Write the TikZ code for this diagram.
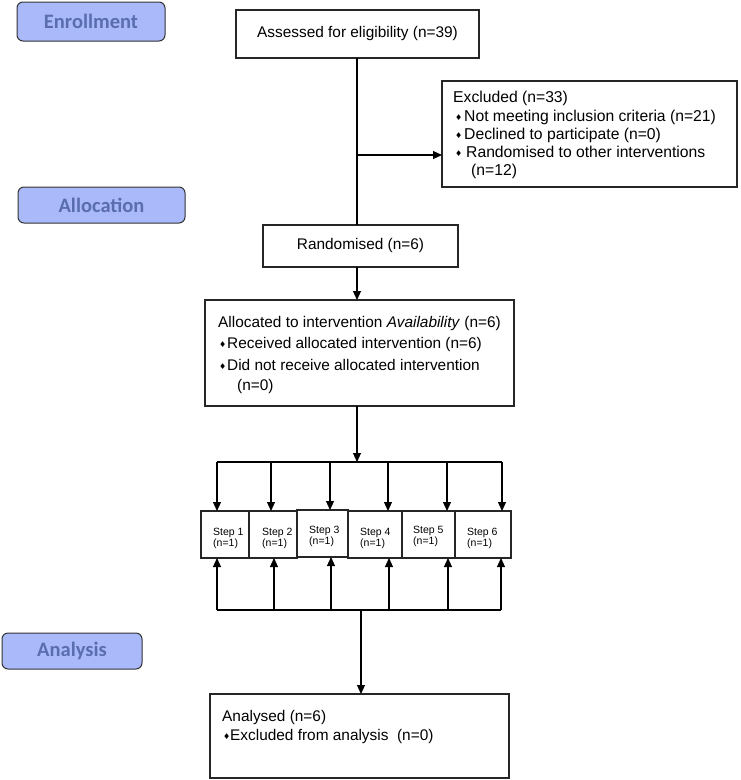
\documentclass[tikz,border=0pt]{standalone}
\usepackage{fontspec}
\setmainfont{Liberation Sans}
\newfontfamily\carlito{Carlito}
\newfontfamily\dejavu{DejaVu Sans}
\usetikzlibrary{arrows.meta}
\definecolor{labfill}{HTML}{A9B9FA}
\definecolor{labtext}{HTML}{5A6DAE}
\newcommand\bul{{\dejavu\fontsize{8}{8}\selectfont\raisebox{0.15ex}{♦}}}
\begin{document}
\begin{tikzpicture}[x=1pt,y=-1pt,
 box/.style={draw=black!85, line width=1.1pt, inner sep=0pt, outer sep=0pt, fill=white},
 lab/.style={draw=black!80, line width=1pt, rounded corners=6pt, fill=labfill, text=labtext,
   font=\carlito\bfseries\fontsize{20.5}{24}\selectfont, inner sep=0pt, outer sep=0pt},
 txt/.style={anchor=base west, inner sep=0pt, font=\fontsize{15.4}{18}\selectfont},
 etxt/.style={txt, font=\fontsize{15.7}{18}\selectfont},
 stxt/.style={anchor=base west, inner sep=0pt, font=\fontsize{10.5}{12}\selectfont},
 ln/.style={line width=1.1pt},
 arr/.style={ln, -{Triangle[length=9pt,width=8pt]}}]
\useasboundingbox (0,0) rectangle (740,780);

% stage labels
\node[lab, minimum width=148, minimum height=39] (enr) at (91,21.5) {Enrollment};
\node[lab, minimum width=167, minimum height=36] (alc) at (101.5,205) {Allocation};
\node[lab, minimum width=140, minimum height=36] (ana) at (72,651) {Analysis};

% main boxes
\node[box, minimum width=243, minimum height=48, font=\fontsize{15.4}{18}\selectfont] (assess) at (357.5,34) {Assessed for eligibility (n=39)};
\node[box, minimum width=295, minimum height=106] (excl) at (589.5,134) {};
\node[etxt] (ex1) at (453,102) {Excluded (n=33)};
\node[etxt] (ex2) at (455,121) {\makebox[9pt][l]{\bul}Not meeting inclusion criteria (n=21)};
\node[etxt] (ex3) at (455,139) {\makebox[9pt][l]{\bul}Declined to participate (n=0)};
\node[etxt] (ex4) at (455,157) {\makebox[11pt][l]{\bul}Randomised to other interventions};
\node[etxt] (ex5) at (471,175) {(n=12)};

\node[box, minimum width=195, minimum height=42, font=\fontsize{15.4}{18}\selectfont] (rand) at (360.5,246) {Randomised (n=6)};

\node[box, minimum width=309, minimum height=106] (alloc) at (359.5,353) {};
\node[txt] (al1) at (218,327) {Allocated to intervention \textit{Availability} (n=6)};
\node[txt] (al2) at (219,348) {\makebox[8pt][l]{\bul}Received allocated intervention (n=6)};
\node[txt] (al3) at (219,370) {\makebox[8pt][l]{\bul}Did not receive allocated intervention};
\node[txt] (al4) at (237,390) {(n=0)};

% steps
\foreach \i/\cx/\cy/\w/\tx/\ty in {1/225/534.5/48/213/535, 2/273/534.5/48/262/535, 3/322.5/533.5/51/309/533,
  4/375/534.5/54/360/535, 5/428.5/534.5/53/413/533, 6/483/534.5/56/467/535}{
  \node[box, minimum width=\w, minimum height=47] (s\i) at (\cx,\cy) {};
  \node[stxt] (st\i) at (\tx,\ty) {Step \i};
  \node[stxt] (sn\i) at (\tx,\ty+11) {(n=1)};
}

\node[box, minimum width=299, minimum height=84] (anal) at (359.5,736) {};
\node[txt] (an1) at (222,721) {Analysed (n=6)};
\node[txt] (an2) at (223,740) {\makebox[7pt][l]{\bul}Excluded from analysis\ \ (n=0)};

% connectors
\coordinate (exb) at (357,155);
\draw[ln] (assess.south -| exb) -- (exb |- rand.north);
\draw[arr] (exb) -- (exb -| excl.west);
\draw[arr] (rand.south -| exb) -- (exb |- alloc.north);

\coordinate (split) at (357,462);
\draw[arr] (alloc.south -| split) -- (split);
\coordinate (d1) at (217,462);
\coordinate (d2) at (271,462);
\coordinate (d3) at (330,462);
\coordinate (d4) at (388,462);
\coordinate (d5) at (447,462);
\coordinate (d6) at (502,462);
\draw[ln] (d1) -- (d6);
\foreach \i in {1,...,6}{\draw[arr] (d\i) -- (d\i |- s\i.north);}

\coordinate (join) at (361,610);
\coordinate (u1) at (217,610);
\coordinate (u2) at (274,610);
\coordinate (u3) at (331,610);
\coordinate (u4) at (389,610);
\coordinate (u5) at (448,610);
\coordinate (u6) at (501,610);
\draw[ln] (u1) -- (u6);
\foreach \i in {1,...,6}{\draw[arr] (u\i) -- (u\i |- s\i.south);}
\draw[arr] (join) -- (join |- anal.north);
\end{tikzpicture}
\end{document}
